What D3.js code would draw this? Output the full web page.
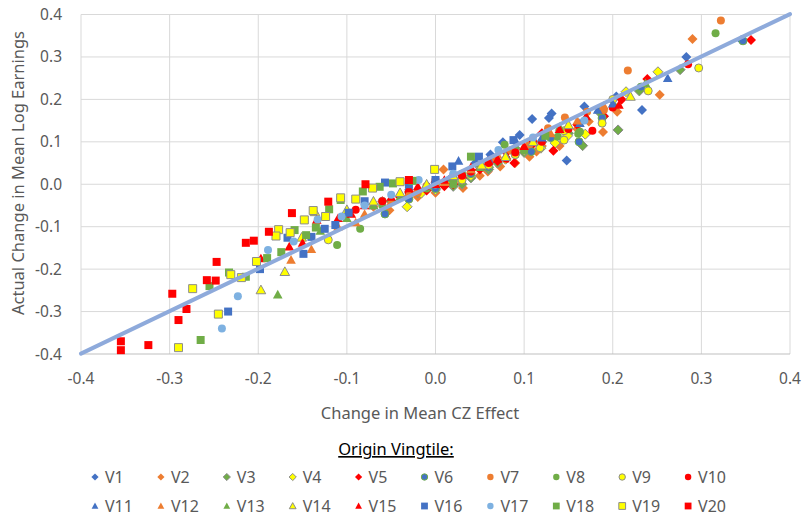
<!DOCTYPE html>
<html>
<head>
<meta charset="utf-8">
<script src="https://cdn.jsdelivr.net/npm/d3@7"></script>
<style>
  body { margin: 0; background: #fff; }
  svg { display: block; font-family: "Noto Sans", "Open Sans", sans-serif; }
  .tick-label { fill: #595959; font-size: 15.5px; }
  .axis-title { fill: #595959; font-size: 16.5px; }
  .legend-text { fill: #595959; font-size: 16px; }
  .legend-title { fill: #000; font-size: 16.5px; text-decoration: underline; }
</style>
</head>
<body>
<svg id="chart" width="805" height="516"></svg>
<script>
// axis ticks
const xTicks = [-0.4, -0.3, -0.2, -0.1, 0.0, 0.1, 0.2, 0.3, 0.4];
const yTicks = [-0.4, -0.3, -0.2, -0.1, 0.0, 0.1, 0.2, 0.3, 0.4];

// linear trend line: y = slope * x + intercept
const trendSlope = 1.0;
const trendIntercept = 0.001;

// series names, [x, y] points
const seriesNames = ["V1","V2","V3","V4","V5","V6","V7","V8","V9","V10",
                     "V11","V12","V13","V14","V15","V16","V17","V18","V19","V20"];

const v1 = [[0.345,0.34],[0.283,0.30],[0.233,0.175],[0.204,0.207],[0.168,0.183],[0.148,0.056],[0.131,0.167],[0.128,0.156],
            [0.109,0.154],[0.095,0.116],[0.076,0.099],[0.062,0.07],[0.045,0.05],[0.03,0.02],[0.015,0.01],[0.0,-0.005],[0.19,0.16]];
const v2 = [[0.29,0.342],[0.253,0.211],[0.205,0.171],[0.189,0.123],[0.173,0.148],[0.16,0.13],[0.14,0.09],[0.12,0.09],
            [0.114,0.077],[0.106,0.065],[0.09,0.05],[0.08,0.06],[0.073,0.042],[0.059,0.03],[0.05,0.02],[0.031,-0.009],
            [0.02,0.005],[0.009,0.035],[0.0,-0.02],[-0.02,-0.03],[-0.052,-0.061],[-0.07,-0.053]];
const v3 = [[0.276,0.27],[0.23,0.22],[0.206,0.128],[0.185,0.17],[0.166,0.091],[0.15,0.12],[0.12,0.1],[0.1,0.075],[0.09,0.085],
            [0.07,0.05],[0.06,0.035],[0.04,0.015],[0.03,0.0],[0.02,-0.005],[0.0,-0.01],[-0.02,-0.02],[-0.05,-0.04]];
const v4 = [[0.251,0.265],[0.215,0.218],[0.169,0.118],[0.149,0.114],[0.135,0.097],[0.119,0.085],[0.10,0.08],[0.079,0.059],
            [0.06,0.04],[0.04,0.02],[0.018,0.002],[0.0,-0.013],[-0.016,-0.021],[-0.032,-0.053]];
const v5 = [[0.356,0.34],[0.239,0.248],[0.21,0.2],[0.19,0.16],[0.16,0.14],[0.133,0.079],[0.12,0.12],[0.11,0.095],[0.089,0.05],
            [0.08,0.075],[0.07,0.055],[0.05,0.035],[0.03,0.015],[0.02,0.0],[0.01,-0.005],[0.0,0.005],[-0.01,-0.015],
            [-0.04,-0.03],[-0.06,-0.04]];
const v6 = [[0.347,0.338],[0.232,0.229],[0.188,0.156],[0.162,0.1],[0.13,0.11],[0.108,0.077],[0.09,0.07],[0.06,0.04],
            [0.04,0.025],[0.02,0.01],[0.0,-0.01],[-0.03,-0.035],[-0.057,-0.07]];
const v7 = [[0.322,0.386],[0.217,0.268],[0.19,0.175],[0.171,0.171],[0.146,0.157],[0.127,0.132],[0.106,0.094],[0.085,0.08],
            [0.067,0.061],[0.04,0.03],[0.02,0.02],[0.0,0.0],[-0.02,-0.02]];
const v8 = [[0.316,0.356],[0.201,0.183],[0.163,0.124],[0.161,0.119],[0.138,0.112],[0.1,0.08],[0.078,0.093],[0.05,0.045],
            [0.03,0.025],[0.02,0.0],[0.0,0.005],[-0.01,-0.01],[-0.03,-0.02],[-0.06,-0.05],[-0.085,-0.105],[-0.111,-0.143]];
const v9 = [[0.297,0.274],[0.24,0.22],[0.2,0.2],[0.188,0.144],[0.145,0.126],[0.145,0.104],[0.118,0.086],[0.09,0.07],
            [0.06,0.045],[0.03,0.01],[0.0,0.0],[-0.03,-0.02],[-0.06,-0.04],[-0.121,-0.131]];
const v10 = [[0.285,0.283],[0.2,0.181],[0.177,0.126],[0.15,0.13],[0.12,0.1],[0.11,0.1],[0.09,0.075],[0.08,0.06],[0.06,0.05],
             [0.04,0.03],[0.03,0.02],[0.0,0.01],[-0.01,-0.005],[-0.03,-0.02],[-0.06,-0.04],[-0.09,-0.06]];
const v11 = [[0.262,0.25],[0.2,0.19],[0.183,0.175],[0.163,0.144],[0.14,0.13],[0.12,0.11],[0.09,0.104],[0.06,0.06],
             [0.026,0.055],[0.0,0.01],[-0.03,-0.005],[-0.07,-0.05]];
const v12 = [[0.19,0.185],[0.16,0.15],[0.13,0.12],[0.1,0.09],[0.07,0.07],[0.04,0.035],[0.01,0.005],[-0.02,-0.01],
             [-0.03,-0.02],[-0.05,-0.04],[-0.08,-0.07],[-0.09,-0.09],[-0.11,-0.1],[-0.14,-0.153],[-0.163,-0.178]];
const v13 = [[0.237,0.238],[0.17,0.16],[0.14,0.135],[0.11,0.1],[0.08,0.065],[0.05,0.04],[0.02,0.015],[-0.01,0.0],
             [-0.04,-0.03],[-0.07,-0.05],[-0.1,-0.08],[-0.13,-0.11],[-0.178,-0.26]];
const v14 = [[0.22,0.207],[0.15,0.14],[0.11,0.1],[0.079,0.065],[0.052,0.045],[0.02,0.02],[-0.01,0.0],[-0.04,-0.02],
             [-0.07,-0.04],[-0.1,-0.06],[-0.136,-0.065],[-0.151,-0.125],[-0.17,-0.206],[-0.197,-0.249]];
const v15 = [[0.207,0.187],[0.17,0.16],[0.14,0.13],[0.1,0.09],[0.07,0.06],[0.06,0.055],[0.04,0.04],[0.01,0.01],[0.0,0.0],
             [-0.02,-0.005],[-0.03,-0.01],[-0.05,-0.03],[-0.08,-0.05],[-0.095,-0.07],[-0.11,-0.08],[-0.134,-0.084],
             [-0.15,-0.138],[-0.165,-0.147],[-0.197,-0.175]];
const v16 = [[0.088,0.104],[0.049,0.065],[0.019,0.042],[0.0,0.01],[-0.03,0.0],[-0.057,0.004],[-0.08,-0.04],[-0.098,-0.067],
             [-0.113,-0.096],[-0.125,-0.105],[-0.14,-0.124],[-0.149,-0.164],[-0.167,-0.126],[-0.198,-0.2],[-0.234,-0.30]];
const v17 = [[0.168,0.15],[0.11,0.11],[0.071,0.081],[0.02,0.025],[-0.019,0.01],[-0.05,-0.025],[-0.08,-0.05],[-0.106,-0.076],
             [-0.133,-0.083],[-0.16,-0.135],[-0.189,-0.155],[-0.223,-0.264],[-0.241,-0.34]];
const v18 = [[0.124,0.114],[0.04,0.065],[-0.026,0.008],[-0.048,0.002],[-0.063,-0.006],[-0.082,-0.017],[-0.107,-0.037],
             [-0.12,-0.059],[-0.135,-0.102],[-0.146,-0.12],[-0.159,-0.108],[-0.174,-0.16],[-0.19,-0.174],[-0.214,-0.218],
             [-0.233,-0.208],[-0.255,-0.24],[-0.265,-0.367]];
const v19 = [[-0.001,0.035],[-0.04,0.006],[-0.071,-0.009],[-0.09,-0.035],[-0.107,-0.032],[-0.124,-0.076],[-0.138,-0.062],
             [-0.148,-0.084],[-0.164,-0.114],[-0.177,-0.107],[-0.18,-0.122],[-0.202,-0.182],[-0.219,-0.22],[-0.231,-0.213],
             [-0.245,-0.306],[-0.274,-0.246],[-0.29,-0.385]];
const v20 = [[-0.03,0.01],[-0.079,0.0],[-0.121,-0.041],[-0.162,-0.068],[-0.188,-0.112],[-0.205,-0.133],[-0.214,-0.138],
             [-0.247,-0.183],[-0.248,-0.227],[-0.258,-0.226],[-0.281,-0.294],[-0.29,-0.32],[-0.297,-0.258],[-0.324,-0.379],
             [-0.355,-0.37],[-0.355,-0.391]];

const seriesValues = [v1,v2,v3,v4,v5,v6,v7,v8,v9,v10,v11,v12,v13,v14,v15,v16,v17,v18,v19,v20];

// marker styles per series
const markerShape = ["diamond","diamond","diamond","diamond","diamond",
                     "circle","circle","circle","circle","circle",
                     "triangle","triangle","triangle","triangle","triangle",
                     "square","circle","square","square","square"];
const markerFill = ["#4472C4","#ED7D31","#70AD47","#FFFF00","#FF0000",
                    "#4472C4","#ED7D31","#70AD47","#FFFF00","#FF0000",
                    "#4472C4","#ED7D31","#70AD47","#FFFF00","#FF0000",
                    "#4472C4","#7EB1E1","#70AD47","#FFFF00","#FF0000"];
const markerStroke = ["none","none","#8C8C8C","#8C8C8C","none",
                      "#70AD47","none","none","#8C8C8C","none",
                      "none","none","none","#8C8C8C","none",
                      "none","none","none","#8C8C8C","none"];

const svg = d3.select("#chart");
const margin = {left: 81, right: 15, top: 14.5, bottom: 162};
const W = 805, H = 516;

const xScale = d3.scaleLinear().domain([-0.4, 0.4]).range([margin.left, W - margin.right]);
const yScale = d3.scaleLinear().domain([-0.4, 0.4]).range([H - margin.bottom, margin.top]);

// gridlines
svg.append("g").selectAll("line").data(xTicks).join("line")
    .attr("x1", d => xScale(d)).attr("x2", d => xScale(d))
    .attr("y1", yScale(0.4)).attr("y2", yScale(-0.4))
    .attr("stroke", "#D9D9D9").attr("stroke-width", 1);
svg.append("g").selectAll("line").data(yTicks).join("line")
    .attr("x1", xScale(-0.4)).attr("x2", xScale(0.4))
    .attr("y1", d => yScale(d)).attr("y2", d => yScale(d))
    .attr("stroke", d => d === -0.4 ? "#BFBFBF" : "#D9D9D9").attr("stroke-width", 1);

// tick labels
svg.append("g").selectAll("text").data(xTicks).join("text")
    .attr("class", "tick-label")
    .attr("x", d => xScale(d)).attr("y", 384)
    .attr("text-anchor", "middle")
    .text(d => d3.format(".1f")(d).replace("−", "-"));
svg.append("g").selectAll("text").data(yTicks).join("text")
    .attr("class", "tick-label")
    .attr("x", 62).attr("y", d => yScale(d) + 5.5)
    .attr("text-anchor", "end")
    .text(d => d3.format(".1f")(d).replace("−", "-"));

// axis titles
svg.append("text").attr("class", "axis-title")
    .attr("x", 420).attr("y", 419).attr("text-anchor", "middle")
    .text("Change in Mean CZ Effect");
svg.append("text").attr("class", "axis-title")
    .attr("transform", "translate(24,173) rotate(-90)")
    .attr("text-anchor", "middle")
    .text("Actual Change in Mean Log Earnings");

// marker path with half-size r
function markerPath(shape, r) {
    if (shape === "diamond") return `M0,${-r}L${r},0L0,${r}L${-r},0Z`;
    if (shape === "square") return `M${-r},${-r}H${r}V${r}H${-r}Z`;
    if (shape === "triangle") return `M0,${-r}L${r},${r * 0.8}L${-r},${r * 0.8}Z`;
    return d3.symbol(d3.symbolCircle, Math.PI * r * r)();
}
const plotSize = {diamond: 5, square: 4, triangle: 4.8, circle: 4};
const legendSize = {diamond: 3.6, square: 3.4, triangle: 3.4, circle: 3.2};

// series points, V1 first so V20 ends on top
seriesValues.forEach((pts, i) => {
    svg.append("g").selectAll("path").data(pts).join("path")
        .attr("d", markerPath(markerShape[i], plotSize[markerShape[i]]))
        .attr("transform", d => `translate(${xScale(d[0])},${yScale(d[1])})`)
        .attr("fill", markerFill[i])
        .attr("stroke", markerStroke[i])
        .attr("stroke-width", 1);
});

// trend line
svg.append("line")
    .attr("x1", xScale(-0.4)).attr("y1", yScale(trendSlope * -0.4 + trendIntercept))
    .attr("x2", xScale(0.4)).attr("y2", yScale(trendSlope * 0.4 + trendIntercept))
    .attr("stroke", "#8EAADB").attr("stroke-width", 4).attr("stroke-linecap", "round");

// legend
svg.append("text").attr("class", "legend-title")
    .attr("x", 396).attr("y", 455).attr("text-anchor", "middle")
    .text("Origin Vingtile:");

const legend = svg.append("g").selectAll("g").data(seriesNames).join("g")
    .attr("transform", (d, i) => `translate(${95 + (i % 10) * 65.9},${i < 10 ? 477 : 506})`);
legend.append("path")
    .attr("d", (d, i) => markerPath(markerShape[i], legendSize[markerShape[i]]))
    .attr("fill", (d, i) => markerFill[i])
    .attr("stroke", (d, i) => markerStroke[i])
    .attr("stroke-width", 1);
legend.append("text").attr("class", "legend-text")
    .attr("x", 10).attr("y", 5.5)
    .text(d => d);
</script>
</body>
</html>
